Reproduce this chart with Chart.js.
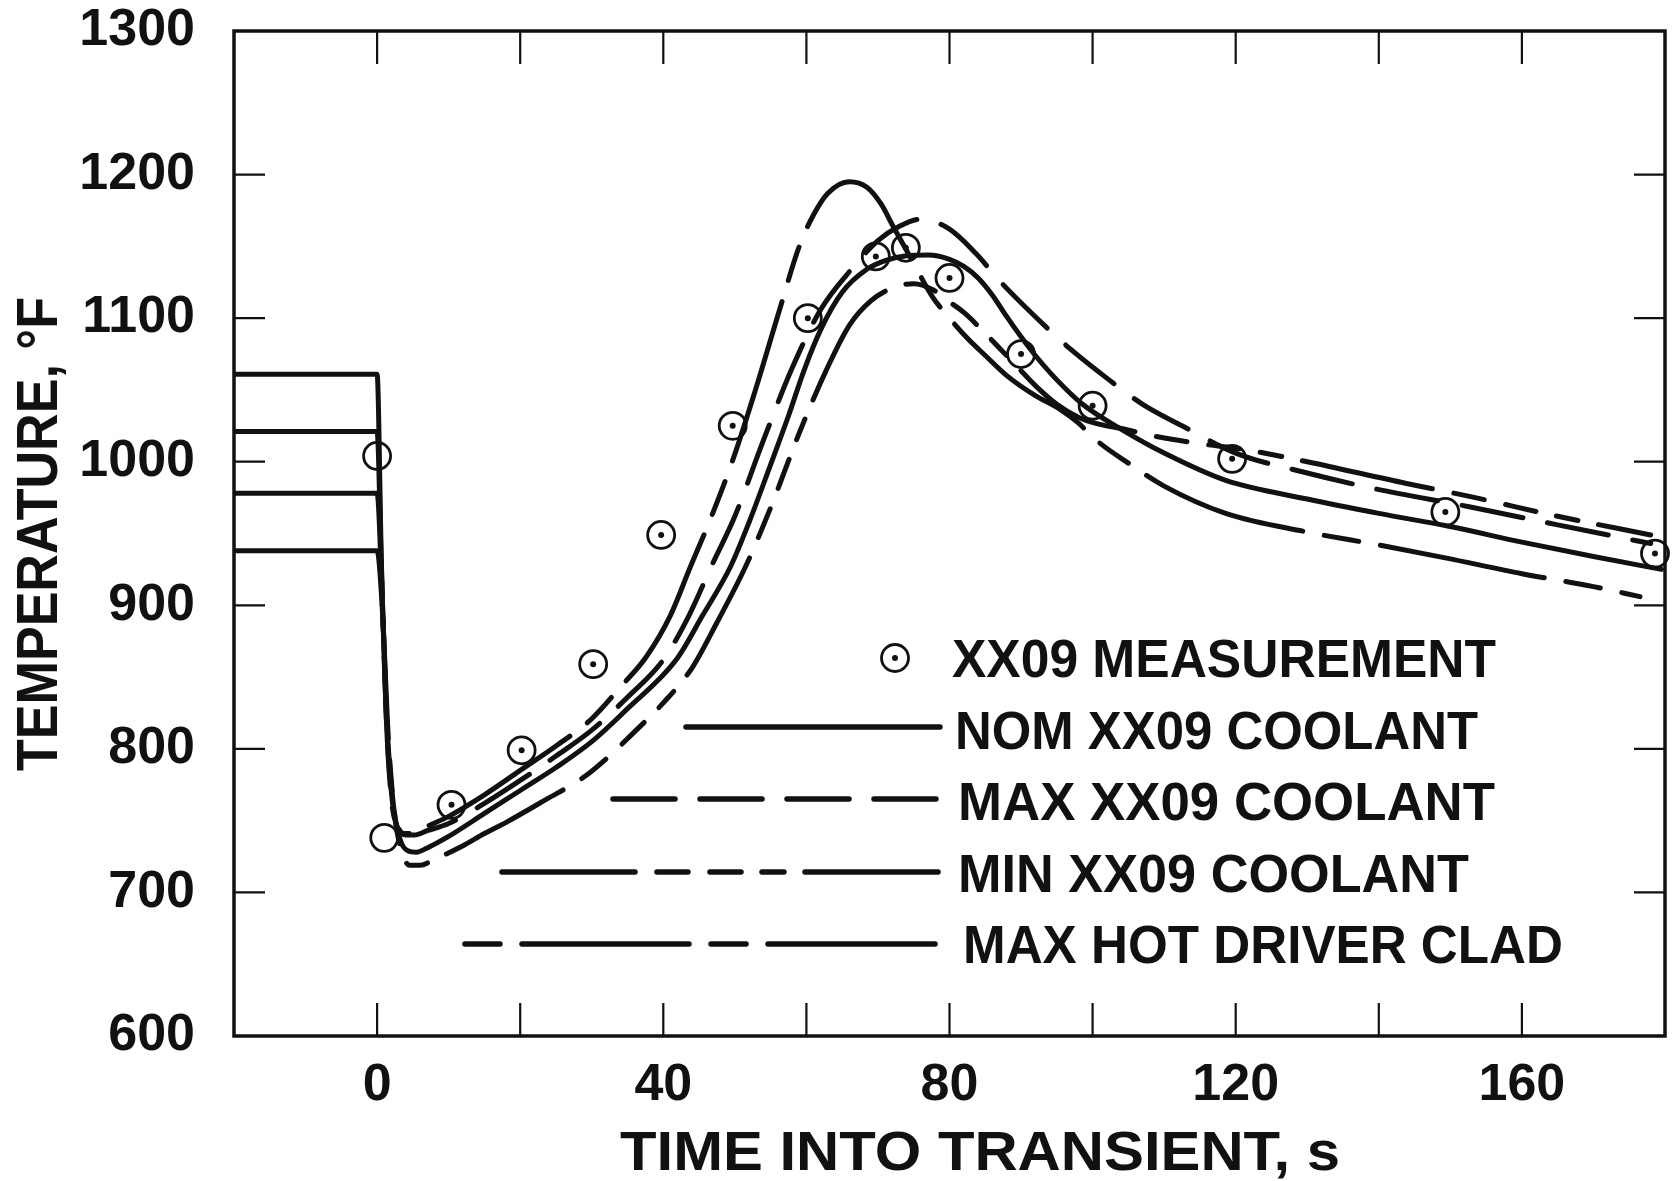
<!DOCTYPE html>
<html>
<head>
<meta charset="utf-8">
<script src="https://cdn.jsdelivr.net/npm/chart.js@4.4.1/dist/chart.umd.min.js"></script>
<style>
  html, body { margin: 0; padding: 0; background: #fff; }
</style>
</head>
<body>
<canvas id="canvas" width="1679" height="1181"></canvas>
<script>
// ---- data (time in s, temperature in deg F) ----
const measTime = [0, 1, 10.4, 20.2, 30.2, 39.7, 49.7, 60.2, 69.7, 73.9, 80, 90, 100, 119.5, 149.3, 178.6];
const measTemp = [1004, 738, 761, 799, 859, 949, 1025, 1100, 1143, 1149, 1128, 1075, 1039, 1002, 965, 936];

const nomTime = [-20, 0, 0.65, 1.4, 2.3, 3.2, 4.3, 5.5, 7, 10, 15, 20, 25, 30, 35, 41.8, 45.5, 49.4, 52, 55,
  57.5, 59.7, 62, 65, 68.3, 71, 74, 77, 80, 82, 84, 86, 88, 90, 92, 95, 98.6, 104.2, 110, 118.6,
  130, 140, 149.8, 160, 170, 179.5];
const nomTemp = [978, 978, 915, 815, 760, 737, 729, 728, 731, 739, 755, 771, 787, 805, 828, 862, 893, 927, 958, 998,
  1032, 1064, 1092, 1118, 1133.5, 1140, 1143.5, 1144, 1141, 1136, 1128, 1116, 1101, 1087, 1074, 1057, 1040, 1022, 1006, 987,
  974, 964, 955, 944, 934, 925];

const maxTime = [-20, 0, 0.6, 1.3, 2.1, 3.0, 4.0, 5.2, 7, 10, 15, 20, 25, 30, 35, 40, 43.5, 46.7, 50, 54,
  57.9, 62, 66.2, 70, 73, 76, 80, 83.7, 87, 92, 97, 102.3, 107, 112.5, 120, 129.3, 139.6, 152.8, 165, 178];
const maxTemp = [1021, 1021, 925, 820, 765, 745, 740, 740, 743, 748, 762, 778, 795, 813, 836, 862, 892, 927, 962, 1015,
  1064, 1106, 1133.5, 1154, 1164, 1169, 1162, 1145, 1126, 1101, 1078, 1057, 1040, 1025, 1006, 993, 981, 968.5, 956, 943];

const minTime = [-20, 0, 0.7, 1.6, 2.5, 3.5, 4.5, 6, 8, 11.8, 15, 18.1, 23.7, 28.8, 32, 36, 40, 44.1, 47.5, 51.5,
  55, 59, 62.8, 66, 69, 72, 75, 77.6, 79.5, 82, 84.5, 87, 89.5, 92, 95, 98, 101, 104.2, 108, 114.4,
  121.8, 130, 143.7, 153, 165, 178];
const minTemp = [938, 938, 900, 805, 752, 728, 719, 719, 723, 732, 741, 749, 765, 780, 793, 812, 832, 857, 888, 927,
  968, 1020, 1064, 1095, 1112, 1121, 1124, 1120, 1113, 1104, 1092, 1079, 1066, 1053, 1040, 1031, 1026, 1023, 1018.5, 1013,
  1008, 1000, 985, 975.5, 962, 949];

const hotTime = [-20, 0, 0.6, 1.3, 2.0, 2.8, 3.8, 5, 7, 10, 15, 20, 25, 30, 34, 37.6, 41, 43.8, 46.5, 49.7,
  53, 56.2, 59, 61, 63, 66, 68.5, 70.5, 72, 74.8, 77.6, 80, 82.5, 85, 88, 92, 95.3, 98, 100.5, 105,
  110, 118.6, 130, 140, 149.3, 160, 170, 176.5];
const hotTemp = [1061, 1061, 930, 820, 765, 746, 741, 741, 746, 753, 768, 785, 802, 821, 843, 864, 893, 927, 959, 1001,
  1052, 1105, 1150, 1172, 1187, 1195, 1191, 1179, 1165, 1140, 1115, 1100, 1086, 1074, 1060, 1046, 1037, 1027, 1015, 999,
  983, 964, 951, 942, 933, 922, 913, 906];

const seriesLabels = ['NOM XX09 COOLANT', 'MAX XX09 COOLANT', 'MIN XX09 COOLANT', 'MAX HOT DRIVER CLAD'];
const measLabel = 'XX09 MEASUREMENT';
const xTitle = 'TIME INTO TRANSIENT, s';
const yTitle = 'TEMPERATURE, \u00B0F';

// ---- styling ----
const INK = '#111';
const FONT = "'Liberation Sans', Arial, sans-serif";

const toPts = (xs, ys) => xs.map((x, i) => ({ x: x, y: ys[i] }));

function curve(label, xs, ys, dash) {
  return {
    label: label,
    data: toPts(xs, ys),
    borderColor: INK,
    borderWidth: 5,
    borderDash: dash,
    borderCapStyle: 'round',
    borderJoinStyle: 'round',
    pointRadius: 0,
    cubicInterpolationMode: 'monotone',
    // the steady-state steps before the transient are drawn solid
    segment: { borderDash: c => (c.p0.parsed.x < 0.5 ? [] : undefined) }
  };
}

const datasets = [
  curve(seriesLabels[0], nomTime, nomTemp, []),
  curve(seriesLabels[1], maxTime, maxTemp, [62, 25]),
  curve(seriesLabels[2], minTime, minTemp, [133, 22, 31, 22, 31, 21, 22, 21]),
  curve(seriesLabels[3], hotTime, hotTemp, [35, 22, 167, 22]),
  {
    label: measLabel,
    data: toPts(measTime, measTemp),
    showLine: false,
    pointRadius: 13.5,
    pointBorderWidth: 2.8,
    pointBorderColor: INK,
    pointBackgroundColor: 'rgba(0,0,0,0)',
    clip: false
  },
  {
    // centre dots (the first two circles have none)
    label: 'dots',
    data: toPts(measTime.slice(2), measTemp.slice(2)),
    showLine: false,
    pointRadius: 3,
    pointBorderWidth: 0,
    pointBackgroundColor: INK,
    clip: false
  }
];

// condensed lettering: fit text to a cap height and a width
function letter(ctx, text, x, y, cap, width, rotate) {
  ctx.save();
  ctx.font = 'bold 100px ' + FONT;
  const size = 100 * cap / ctx.measureText('H').actualBoundingBoxAscent;
  ctx.font = 'bold ' + size.toFixed(1) + 'px ' + FONT;
  const w = ctx.measureText(text).width;
  ctx.translate(x, y);
  if (rotate) ctx.rotate(-Math.PI / 2);
  ctx.scale(width / w, 1);
  ctx.fillStyle = INK;
  ctx.textAlign = 'left';
  ctx.textBaseline = 'alphabetic';
  ctx.fillText(text, 0, 0);
  ctx.restore();
}

// frame with inward ticks on all four sides
const framePlugin = {
  id: 'frame',
  afterDatasetsDraw(chart) {
    const { ctx, chartArea: a, scales: { x, y } } = chart;
    ctx.save();
    ctx.strokeStyle = INK;
    ctx.lineWidth = 2.2;
    ctx.beginPath();
    x.ticks.forEach(t => {
      if (t.value <= x.min || t.value >= x.max) return;
      const px = x.getPixelForValue(t.value);
      ctx.moveTo(px, a.bottom); ctx.lineTo(px, a.bottom - 33);
      ctx.moveTo(px, a.top); ctx.lineTo(px, a.top + 33);
    });
    y.ticks.forEach(t => {
      if (t.value <= y.min || t.value >= y.max) return;
      const py = y.getPixelForValue(t.value);
      ctx.moveTo(a.left, py); ctx.lineTo(a.left + 31, py);
      ctx.moveTo(a.right, py); ctx.lineTo(a.right - 31, py);
    });
    ctx.stroke();
    ctx.lineWidth = 3.5;
    ctx.strokeRect(a.left, a.top, a.right - a.left, a.bottom - a.top);
    ctx.restore();
  }
};

// legend rows and axis titles
const legendRows = [
  { ds: 4, mx: 895, y: 658, tx: 952, base: 677, cap: 37, w: 544 },
  { ds: 0, x0: 686, x1: 940, y: 727, tx: 955, base: 749, cap: 37.5, w: 523 },
  { ds: 1, x0: 613, x1: 940, y: 799, tx: 958, base: 820, cap: 38, w: 537 },
  { ds: 2, x0: 502, x1: 942, y: 872, tx: 958, base: 892, cap: 37.7, w: 511 },
  { ds: 3, x0: 465, x1: 942, y: 944, tx: 963, base: 963, cap: 38, w: 600 }
];

const textPlugin = {
  id: 'texts',
  afterDraw(chart) {
    const ctx = chart.ctx;
    legendRows.forEach(r => {
      const ds = chart.data.datasets[r.ds];
      ctx.save();
      ctx.strokeStyle = INK;
      if (r.mx) {
        ctx.lineWidth = 2.8;
        ctx.beginPath();
        ctx.arc(r.mx, r.y, 13.5, 0, Math.PI * 2);
        ctx.stroke();
        ctx.fillStyle = INK;
        ctx.beginPath();
        ctx.arc(r.mx, r.y, 3, 0, Math.PI * 2);
        ctx.fill();
      } else {
        ctx.lineWidth = 5.5;
        ctx.lineCap = 'round';
        ctx.setLineDash(ds.borderDash);
        ctx.beginPath();
        ctx.moveTo(r.x0, r.y);
        ctx.lineTo(r.x1, r.y);
        ctx.stroke();
      }
      ctx.restore();
      letter(ctx, ds.label, r.tx, r.base, r.cap, r.w, false);
    });
    letter(ctx, xTitle, 620, 1170, 38.3, 720, false);
    letter(ctx, yTitle, 57, 771, 40, 474, true);
  }
};

// keep the plot box where the figure has it: no label overflow padding
const noPad = s => { s.paddingTop = 0; s.paddingBottom = 0; s.paddingLeft = 0; s.paddingRight = 0; };

new Chart(document.getElementById('canvas'), {
  type: 'line',
  data: { datasets: datasets },
  options: {
    responsive: false,
    animation: false,
    devicePixelRatio: 1,
    events: [],
    layout: { autoPadding: false, padding: { left: 0, right: 14, top: 31, bottom: 0 } },
    plugins: { legend: { display: false }, tooltip: { enabled: false } },
    scales: {
      x: {
        type: 'linear',
        min: -20,
        max: 180,
        grid: { display: false, drawTicks: false },
        border: { display: false },
        afterFit: s => { s.height = 145; noPad(s); },
        ticks: {
          stepSize: 20,
          autoSkip: false,
          maxRotation: 0,
          padding: 24,
          color: INK,
          font: { family: FONT, size: 52, weight: 'bold', lineHeight: 1 },
          callback: v => (v >= 0 && v <= 160 && v % 40 === 0 ? String(v) : '')
        }
      },
      y: {
        min: 600,
        max: 1300,
        grid: { display: false, drawTicks: false },
        border: { display: false },
        afterFit: s => { s.width = 234; noPad(s); },
        ticks: {
          stepSize: 100,
          padding: 39,
          color: INK,
          font: { family: FONT, size: 52, weight: 'bold', lineHeight: 1 },
          callback: v => String(v)
        }
      }
    }
  },
  plugins: [framePlugin, textPlugin]
});
</script>
</body>
</html>
